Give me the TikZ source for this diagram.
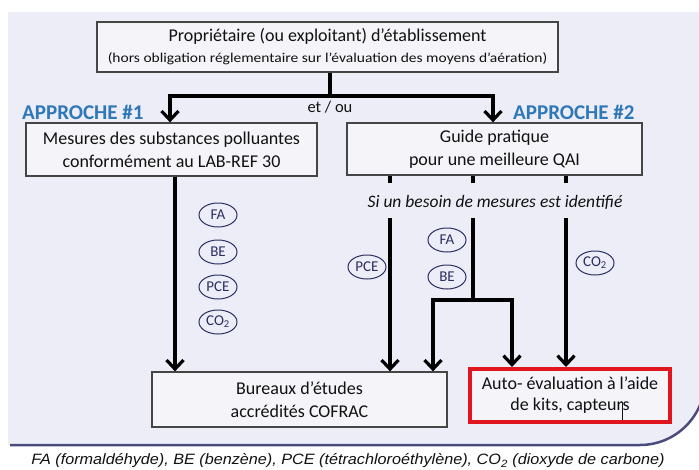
\documentclass[tikz,border=0pt]{standalone}
\usepackage{fontspec}
\setmainfont{Carlito}
\newfontfamily\footfont{Liberation Sans}
\usetikzlibrary{arrows.meta,shapes.geometric}
\definecolor{bgc}{HTML}{EDEDF7}
\definecolor{boxfill}{HTML}{F4F4F9}
\definecolor{boxline}{HTML}{454545}
\definecolor{appblue}{HTML}{2E78B8}
\definecolor{navy}{HTML}{2A2F62}
\definecolor{shadowc}{HTML}{4B4B7E}
\definecolor{redbox}{HTML}{E0161E}
\definecolor{txt}{HTML}{111111}
\tikzset{
  flowbox/.style={draw=boxline, line width=1.3pt, fill=boxfill, align=center, inner sep=0pt, text=txt},
  conn/.style={line width=3.2pt, black},
  arr/.style={conn, -{Straight Barb[length=9pt,width=17pt]}},
  subst/.style={ellipse, draw=navy, line width=1pt, minimum width=38pt, minimum height=24pt, inner sep=0pt, font=\fontsize{15}{16}\selectfont, text=navy},
  approche/.style={text=appblue, font=\bfseries\fontsize{21}{24}\selectfont, inner sep=0pt, anchor=west},
  bigtxt/.style={font=\fontsize{18}{23}\selectfont},
}
\begin{document}
\begin{tikzpicture}[x=1pt,y=-1pt]
\useasboundingbox (0,0) rectangle (699,469);
\clip (0,0) rectangle (699,469);
\fill[white] (0,0) rectangle (699,469);
\fill[bgc] (8,12) -- (705,12) -- (705,380) arc[start angle=0,end angle=90,radius=65] -- (8,445) -- cycle;
\draw[shadowc, line width=2.5pt] (10,445) -- (640,445) arc[start angle=90,end angle=0,radius=65];

% boxes
\node[flowbox, font=\fontsize{18}{21}\selectfont, minimum width=461pt, minimum height=50pt] (top) at (327.5,47)
  {Propriétaire (ou exploitant) d’établissement\\[0pt]
   {\fontsize{13.5}{15}\selectfont \scalebox{1.15}[1]{(hors obligation réglementaire sur l’évaluation des moyens d’aération)}}};
\node[flowbox, bigtxt, minimum width=291pt, minimum height=53pt] (L) at (171.5,149.5)
  {Mesures des substances polluantes\\conformément au LAB-REF 30};
\node[flowbox, bigtxt, minimum width=295pt, minimum height=52pt] (R) at (494.5,149)
  {Guide pratique\\pour une meilleure QAI};
\node[flowbox, bigtxt, minimum width=295pt, minimum height=55pt] (B) at (299.5,399.5)
  {Bureaux d’études\\accrédités COFRAC};
\node[flowbox, font=\fontsize{18}{21}\selectfont, draw=redbox, line width=4pt, minimum width=200pt, minimum height=53pt] (A) at (570,395.5)
  {Auto- évaluation à l’aide\\de kits, capteurs};

% labels
\node[approche] (ap1) at (22,112) {APPROCHE \#1};
\node[approche] (ap2) at (513,112) {APPROCHE \#2};
\node[font=\fontsize{16.5}{18}\selectfont, text=txt] (etou) at (330,107) {et / ou};
\node[font=\itshape\fontsize{17.5}{20}\selectfont, text=txt] (besoin) at (495,202) {Si un besoin de mesures est identifié};

% top split
\coordinate (split) at (330,96);
\coordinate (jl) at (170,96);
\coordinate (jr) at (493,96);
\draw[conn] (top.south -| split) -- (split);
\draw[arr] (split) -- (jl) -- (jl |- L.north);
\draw[arr] (split) -- (jr) -- (jr |- R.north);

% left branch
\coordinate (lx) at (175,0);
\draw[arr] (L.south -| lx) -- (B.north -| lx);

% right branch
\coordinate (s1) at (390,183);
\coordinate (s2) at (473,183);
\coordinate (s3) at (566,183);
\draw[conn] (R.south -| s1) -- (s1);
\draw[conn] (R.south -| s2) -- (s2);
\draw[conn] (R.south -| s3) -- (s3);
\coordinate (r1) at (390,218);
\coordinate (r2) at (473,218);
\coordinate (r3) at (566,218);
\coordinate (fork) at (473,300);
\coordinate (fl) at (433,300);
\coordinate (fr) at (512,300);
\draw[arr] (r1) -- (r1 |- B.north);
\draw[conn] (r2) -- (fork);
\draw[arr] (fork) -- (fl) -- (fl |- B.north);
\draw[arr] (fork) -- (fr) -- (fr |- A.north);
\draw[arr] (r3) -- (r3 |- A.north);

% substances
\node[subst] (fa1) at (218,215) {FA};
\node[subst] (be1) at (218,252) {BE};
\node[subst] (pce1) at (218,287) {PCE};
\node[subst] (co1) at (218,322) {CO\textsubscript{2}};
\node[subst] (pce2) at (367,267) {PCE};
\node[subst] (fa2) at (447,240) {FA};
\node[subst] (be2) at (447,277) {BE};
\node[subst] (co2) at (595,263) {CO\textsubscript{2}};

% text cursor
\draw[line width=0.8pt, txt] (622,402) -- (622,420);

% footnote
\node[font=\footfont\itshape\fontsize{15}{17}\selectfont, text=txt] (note) at (348,461)
  {\scalebox{1.08}[1]{FA (formaldéhyde), BE (benzène), PCE (tétrachloroéthylène), CO\textsubscript{2} (dioxyde de carbone)}};
\end{tikzpicture}
\end{document}
